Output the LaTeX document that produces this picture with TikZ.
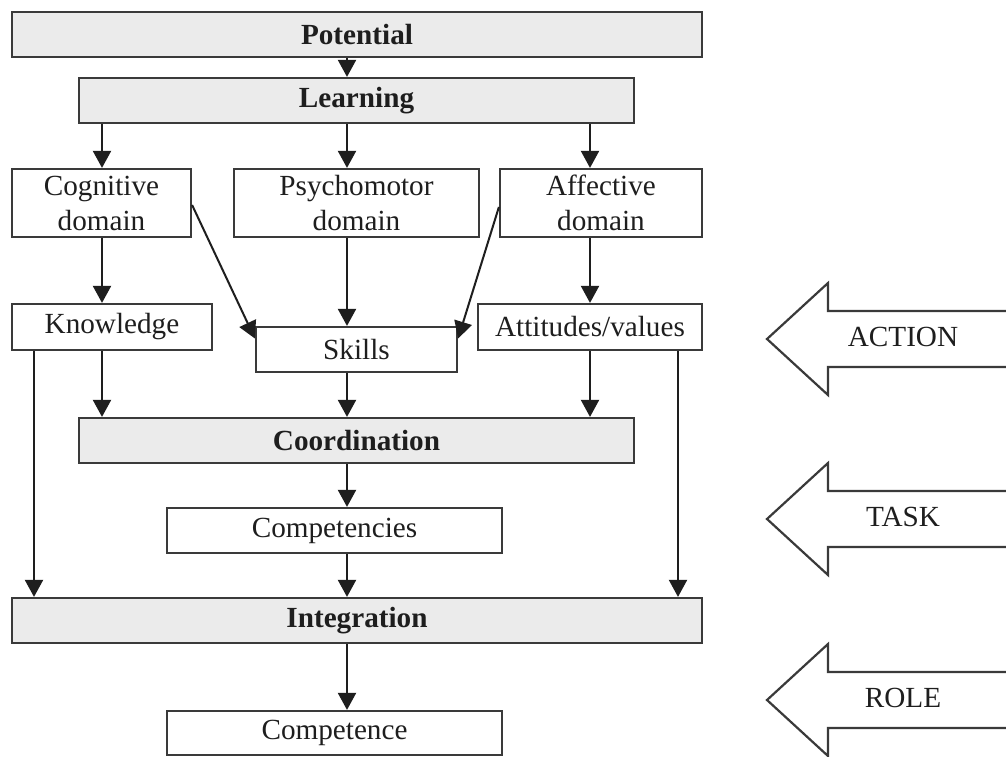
\documentclass[tikz,border=0pt]{standalone}
\usepackage{fontspec}
\setmainfont{Liberation Serif}
\usetikzlibrary{arrows.meta}
\definecolor{boxfill}{HTML}{EBEBEB}
\definecolor{edge}{HTML}{3A3A3A}
\definecolor{ink}{HTML}{1E1E1E}
\tikzset{
  base/.style={draw=edge, line width=1.1pt, inner sep=0pt, text=ink,
    font=\fontsize{14.6}{17.5}\selectfont, align=center},
  gbox/.style={base, fill=boxfill, font=\fontsize{14.6}{17.5}\selectfont\bfseries},
  wbox/.style={base, fill=white},
  arr/.style={draw=ink, line width=1pt, -{Triangle[width=9pt,length=8.5pt]}},
  plain/.style={draw=ink, line width=1pt},
  bigarrow/.style={draw=edge, line width=1.1pt, line join=miter},
  lbl/.style={text=ink, font=\fontsize{14.6}{17.5}\selectfont}
}
\begin{document}
\begin{tikzpicture}[x=0.5pt,y=-0.5pt]
\useasboundingbox (0,0) rectangle (1006,756);
\fill[white] (0,0) rectangle (1006,756);
% column coordinates
\coordinate (xl) at (34,0);
\coordinate (xa) at (102,0);
\coordinate (xb) at (347,0);
\coordinate (xc) at (590,0);
\coordinate (xr) at (678,0);
% boxes
\node[gbox, minimum width=345pt, minimum height=22.5pt] (pot) at (357,34.5) {Potential};
\node[gbox, minimum width=277.5pt, minimum height=22.5pt] (learn) at (356.5,100.5) {Learning};
\node[wbox, minimum width=89.5pt, minimum height=34pt] (cog) at (101.5,203) {Cognitive\\domain};
\node[wbox, minimum width=122.5pt, minimum height=34pt] (psy) at (356.5,203) {Psychomotor\\domain};
\node[wbox, minimum width=101pt, minimum height=34pt] (aff) at (601,203) {Affective\\domain};
\node[wbox, minimum width=100pt, minimum height=23pt] (know) at (112,327) {Knowledge};
\node[wbox, minimum width=100.5pt, minimum height=22.5pt] (skills) at (356.5,349.5) {Skills};
\node[wbox, minimum width=112pt, minimum height=23pt] (att) at (590,327) {Attitudes/values};
\node[gbox, minimum width=277.5pt, minimum height=22.5pt] (coord) at (356.5,440.5) {Coordination};
\node[wbox, minimum width=167.5pt, minimum height=22.5pt] (comps) at (334.5,530.5) {Competencies};
\node[gbox, minimum width=345pt, minimum height=22.5pt] (integ) at (357,620.5) {Integration};
\node[wbox, minimum width=167.5pt, minimum height=22pt] (compe) at (334.5,733) {Competence};
% connectors
\draw[arr] (pot.south -| xb) -- (learn.north -| xb);
\draw[arr] (learn.south -| xa) -- (cog.north -| xa);
\draw[arr] (learn.south -| xb) -- (psy.north -| xb);
\draw[arr] (learn.south -| xc) -- (aff.north -| xc);
\draw[arr] (cog.south -| xa) -- (know.north -| xa);
\draw[arr] (psy.south -| xb) -- (skills.north -| xb);
\draw[arr] (aff.south -| xc) -- (att.north -| xc);
\draw[arr] ([yshift=-1pt]cog.east) -- ([yshift=5.5pt]skills.west);
\draw[arr] ([yshift=-2pt]aff.west) -- ([yshift=5.5pt]skills.east);
\draw[arr] (know.south -| xa) -- (coord.north -| xa);
\draw[arr] (skills.south -| xb) -- (coord.north -| xb);
\draw[arr] (att.south -| xc) -- (coord.north -| xc);
\draw[arr] (coord.south -| xb) -- (comps.north -| xb);
\draw[arr] (comps.south -| xb) -- (integ.north -| xb);
\draw[arr] (know.south -| xl) -- (integ.north -| xl);
\draw[arr] (att.south -| xr) -- (integ.north -| xr);
\draw[arr] (integ.south -| xb) -- (compe.north -| xb);
% side arrows
\foreach \c/\t/\n in {339/ACTION/action, 519/TASK/task, 700/ROLE/role}{
  \draw[bigarrow] (1006,\c-28) -- (828,\c-28) -- (828,\c-56) -- (767,\c)
    -- (828,\c+56) -- (828,\c+28) -- (1006,\c+28);
  \node[lbl] (\n) at (903,\c-2) {\t};
}
\end{tikzpicture}
\end{document}
